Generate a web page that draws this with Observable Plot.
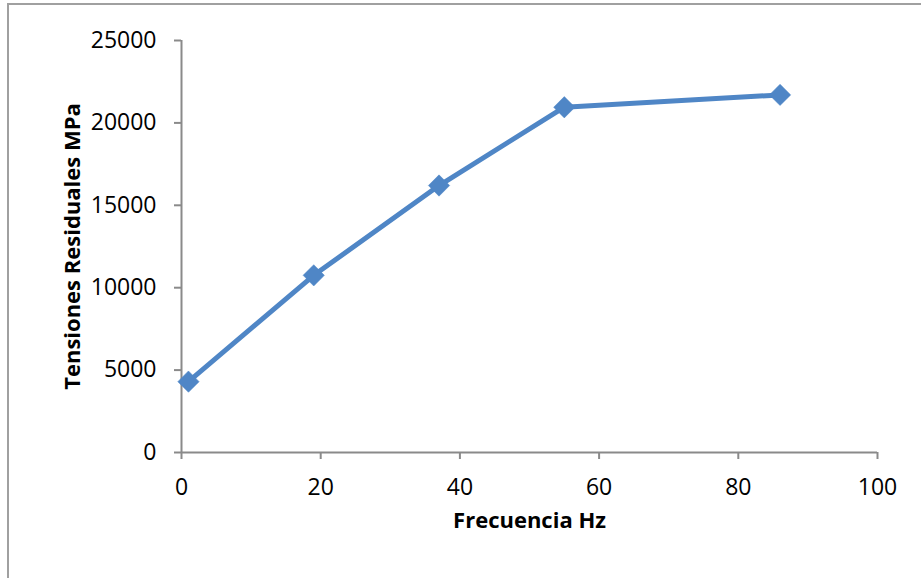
<!DOCTYPE html>
<html>
<head>
<meta charset="utf-8">
<script src="https://cdn.jsdelivr.net/npm/d3@7"></script>
<script src="https://cdn.jsdelivr.net/npm/@observablehq/plot@0.6"></script>
<style>
  html, body { margin: 0; padding: 0; background: #fff; }
  #wrap { position: relative; width: 921px; height: 578px; overflow: hidden; }
  #frame { position: absolute; left: 7px; top: 3px; width: 1000px; height: 700px;
           border-left: 2px solid #a0a0a0; border-top: 2px solid #a0a0a0; box-sizing: border-box; pointer-events: none; }
</style>
</head>
<body>
<div id="wrap"><div id="frame"></div></div>
<script>
const frequency = [1, 19, 37, 55, 86];
const stress = [4300, 10750, 16200, 20950, 21700];
const xTicks = [0, 20, 40, 60, 80, 100];
const yTicks = [0, 5000, 10000, 15000, 20000, 25000];
const xTitle = "Frecuencia Hz";
const yTitle = "Tensiones Residuales MPa";

const data = frequency.map((f, i) => ({x: f, y: stress[i]}));
const axisColor = "#8a8a8a";

const chart = Plot.plot({
  width: 921,
  height: 578,
  marginLeft: 181,
  marginRight: 44,
  marginTop: 40,
  marginBottom: 126,
  style: {fontFamily: "'Open Sans', sans-serif", fontSize: "23px", color: "black", background: "transparent"},
  x: {domain: [0, 100]},
  y: {domain: [0, 25000]},
  marks: [
    Plot.ruleY([0], {stroke: axisColor, strokeWidth: 2}),
    Plot.ruleX([0], {stroke: axisColor, strokeWidth: 2}),
    Plot.axisX({ticks: xTicks, tickSize: 7, tickPadding: 19, stroke: axisColor, strokeWidth: 2, fill: "black", label: null, fontSize: 23}),
    Plot.axisY({ticks: yTicks, tickSize: 7, tickPadding: 18, stroke: axisColor, strokeWidth: 2, fill: "black", label: null, tickFormat: "d", fontSize: 23}),
    Plot.line(data, {x: "x", y: "y", stroke: "#4f86c6", strokeWidth: 5, strokeLinejoin: "round"}),
    Plot.dot(data, {x: "x", y: "y", symbol: "diamond2", r: 9.6, fill: "#4f86c6", stroke: "#4f86c6", strokeWidth: 0.5}),
    Plot.text([xTitle], {frameAnchor: "bottom", dy: 75, fontWeight: "bold", fontSize: 22, fill: "black"}),
    Plot.text([yTitle], {frameAnchor: "left", dx: -109, rotate: -90, textAnchor: "middle", fontWeight: "bold", fontSize: 22, fill: "black"})
  ]
});
document.getElementById("wrap").prepend(chart);
</script>
</body>
</html>
